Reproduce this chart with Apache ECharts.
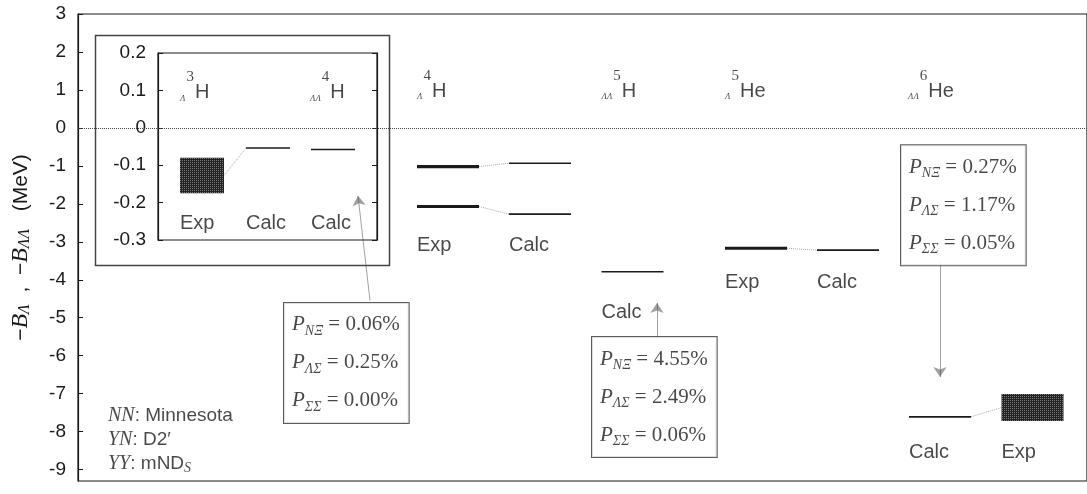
<!DOCTYPE html>
<html><head><meta charset="utf-8">
<script src="https://cdn.jsdelivr.net/npm/echarts@6/dist/echarts.min.js"></script>
<style>html,body{margin:0;padding:0;background:#fff}#c{width:1087px;height:494px}</style>
</head><body><div id="c"></div>
<script>
// ---------------- data ----------------
const yTicksMain = [3, 2, 1, 0, -1, -2, -3, -4, -5, -6, -7, -8, -9];
const yTicksInset = [0.2, 0.1, 0, -0.1, -0.2, -0.3];
// main panel energies (MeV)
const h4LExp = [-1.02, -2.07];
const h4LCalc = [-0.93, -2.27];
const h5LLCalc = [-3.79];
const he5LExp = [-3.17];
const he5LCalc = [-3.22];
const he6LLCalc = [-7.61];
const he6LLExp = [-7.01, -7.72];   // experimental band
// inset energies (MeV)
const h3LExp = [-0.08, -0.175];    // experimental band
const h3LCalc = [-0.054];
const h4LLCalc = [-0.058];
// probabilities (%)
const probKeys = ['NΞ', 'ΛΣ', 'ΣΣ'];
const probH4LL = ['0.06', '0.25', '0.00'];
const probH5LL = ['4.55', '2.49', '0.06'];
const probHe6LL = ['0.27', '1.17', '0.05'];
const potentials = [['NN', ': Minnesota', ''], ['YN', ': D2′', ''], ['YY', ': mND', 'S']];

// ---------------- layout (column slots in axis units) ----------------
const S = {h4Exp: 370, h4Calc: 462, h5Calc: 554.5, he5Exp: 678, he5Calc: 770, he6Calc: 862, he6Exp: 954.5};
const I = {h3Exp: 44, h3Calc: 110, h4Calc: 175};
const HW = 31, IHW = 22;
const SANS = 'Liberation Sans', SERIF = 'Liberation Serif';
const INK = '#1a1a1a';

// speckled pattern for experimental bands
const pc = document.createElement('canvas'); pc.width = 2; pc.height = 2;
const g = pc.getContext('2d');
g.fillStyle = '#222'; g.fillRect(0, 0, 2, 2);
g.fillStyle = '#7a7a7a'; g.fillRect(0, 0, 1, 1);
const hatch = {image: pc, repeat: 'repeat'};

function levelSeries(xi, yi, hw, data) {
  return {
    type: 'custom', xAxisIndex: xi, yAxisIndex: yi, silent: true, z: 5,
    renderItem: function (p, api) {
      const x = api.value(0), y = api.value(1), w = api.value(2);
      const a = api.coord([x - hw, y]), b = api.coord([x + hw, y]);
      return {type: 'line', shape: {x1: a[0], y1: a[1], x2: b[0], y2: b[1]}, style: {stroke: INK, lineWidth: w}};
    },
    data: data
  };
}
function bandSeries(xi, yi, hw, data) {
  return {
    type: 'custom', xAxisIndex: xi, yAxisIndex: yi, silent: true, z: 5,
    renderItem: function (p, api) {
      const x = api.value(0), y1 = api.value(1), y2 = api.value(2);
      const a = api.coord([x - hw, y1]), b = api.coord([x + hw, y2]);
      return {type: 'rect', shape: {x: a[0], y: a[1], width: b[0] - a[0], height: b[1] - a[1]}, style: {fill: hatch}};
    },
    data: data
  };
}
function textSeries(xi, yi, items, extra) {
  return Object.assign({
    type: 'scatter', xAxisIndex: xi, yAxisIndex: yi, symbolSize: 0, silent: true, z: 6,
    data: items.map(it => ({value: [it[0], it[1]], label: {formatter: it[2]}})),
    label: {show: true, position: 'right', distance: 0, color: INK, fontFamily: SANS, fontSize: 20}
  }, extra || {});
}

const nucRich = {
  sub: {fontFamily: SERIF, fontStyle: 'italic', fontSize: 9, verticalAlign: 'bottom', padding: [0, 0, 17, 0], color: INK},
  sup: {fontFamily: SERIF, fontSize: 15, verticalAlign: 'top', padding: [4, 1, 0, 1], color: INK},
  el: {fontFamily: SANS, fontSize: 20, lineHeight: 54, color: INK}
};
const probRich = {
  P: {fontFamily: SERIF, fontStyle: 'italic', fontSize: 21, lineHeight: 38, color: INK},
  s: {fontFamily: SERIF, fontStyle: 'italic', fontSize: 14, verticalAlign: 'bottom', padding: [0, 0, 6, 0], color: INK},
  t: {fontFamily: SERIF, fontSize: 21, lineHeight: 38, color: INK}
};
function probText(vals) {
  return vals.map((v, i) => '{P|P}{s|' + probKeys[i] + '}{t| = ' + v + '%}').join('\n');
}
const boxLabel = {rich: probRich, backgroundColor: '#fff', borderColor: '#333', borderWidth: 1, padding: [3, 9, 3, 8]};

const mainLevels = [
  [S.h4Exp, h4LExp[0], 3.2], [S.h4Exp, h4LExp[1], 3.2],
  [S.h4Calc, h4LCalc[0], 1.6], [S.h4Calc, h4LCalc[1], 1.6],
  [S.h5Calc, h5LLCalc[0], 1.6],
  [S.he5Exp, he5LExp[0], 3.0], [S.he5Calc, he5LCalc[0], 1.6],
  [S.he6Calc, he6LLCalc[0], 1.6]
];
const insetLevels = [[I.h3Calc, h3LCalc[0], 1.6], [I.h4Calc, h4LLCalc[0], 1.6]];

const dotted = {type: 'dotted', color: '#555', width: 1};
const connectors = [
  [[S.h4Exp + HW, h4LExp[0]], [S.h4Calc - HW, h4LCalc[0]]],
  [[S.h4Exp + HW, h4LExp[1]], [S.h4Calc - HW, h4LCalc[1]]],
  [[S.he5Exp + HW, he5LExp[0]], [S.he5Calc - HW, he5LCalc[0]]],
  [[S.he6Calc + HW, he6LLCalc[0]], [S.he6Exp - HW, (he6LLExp[0] + he6LLExp[1]) / 2]]
];
const insetConnectors = [[[I.h3Exp + IHW, (h3LExp[0] + h3LExp[1]) / 2], [I.h3Calc - IHW, h3LCalc[0]]]];

const chart = echarts.init(document.getElementById('c'), null, {renderer: 'canvas'});
chart.setOption({
  animation: false,
  backgroundColor: '#fff',
  grid: [
    {left: 78, top: 14, right: 0, bottom: 13, show: true, borderColor: INK, borderWidth: 1.2, backgroundColor: 'transparent',
      containLabel: false, outerBoundsMode: 'none'},
    {left: 158, top: 53, width: 219, height: 187, show: true, borderColor: INK, borderWidth: 1.2, backgroundColor: 'transparent',
      containLabel: false, outerBoundsMode: 'none'}
  ],
  graphic: [
    {type: 'rect', left: 93, top: 33, shape: {width: 294, height: 230}, style: {fill: 'none', stroke: '#444', lineWidth: 1.5}, z: 1}
  ],
  xAxis: [
    {gridIndex: 0, type: 'value', min: 0, max: 1009, show: false},
    {gridIndex: 1, type: 'value', min: 0, max: 219, show: false}
  ],
  yAxis: [
    {gridIndex: 0, type: 'value', min: -9.3, max: 3,
      axisLine: {show: true, lineStyle: {color: INK, width: 1.2}},
      axisTick: {show: true, inside: true, length: 5, customValues: yTicksMain, lineStyle: {color: INK}},
      axisLabel: {customValues: yTicksMain, margin: 12, color: INK, fontFamily: SANS, fontSize: 19},
      splitLine: {show: false},
      name: '{t|−}{B|B}{s|Λ}{t|  ,  −}{B|B}{s|ΛΛ}{t|   (MeV)}',
      nameLocation: 'middle', nameRotate: 90, nameGap: 42, nameMoveOverlap: false,
      nameTextStyle: {rich: {
        t: {fontFamily: SANS, fontSize: 21, lineHeight: 30, color: INK},
        B: {fontFamily: SERIF, fontStyle: 'italic', fontSize: 24, lineHeight: 30, color: INK},
        s: {fontFamily: SERIF, fontStyle: 'italic', fontSize: 16, verticalAlign: 'bottom', padding: [0, 0, 3, 0], color: INK}
      }}
    },
    {gridIndex: 1, type: 'value', min: -0.3, max: 0.2,
      axisLine: {show: true, lineStyle: {color: INK, width: 1.2}},
      axisTick: {show: true, inside: true, length: 5, customValues: yTicksInset, lineStyle: {color: INK}},
      axisLabel: {customValues: yTicksInset, margin: 12, color: INK, fontFamily: SANS, fontSize: 19,
        formatter: v => (Math.abs(v) < 1e-9 ? '0' : v.toFixed(1))},
      splitLine: {show: false}
    },
    {gridIndex: 1, type: 'value', min: -0.3, max: 0.2, position: 'right',
      axisLine: {show: true, lineStyle: {color: INK, width: 1.2}},
      axisTick: {show: true, inside: true, length: 5, customValues: yTicksInset, lineStyle: {color: INK}},
      axisLabel: {show: false}, splitLine: {show: false}
    }
  ],
  series: [
    {type: 'line', xAxisIndex: 0, yAxisIndex: 0, data: [], silent: true, z: 9,
      markLine: {silent: true, symbol: 'none', label: {show: false}, lineStyle: {type: 'dotted', color: '#444', width: 1}, data: [{yAxis: 0}]}},
    levelSeries(0, 0, HW, mainLevels),
    bandSeries(0, 0, HW, [[S.he6Exp, he6LLExp[0], he6LLExp[1]]]),
    levelSeries(1, 1, IHW, insetLevels),
    bandSeries(1, 1, IHW, [[I.h3Exp, h3LExp[0], h3LExp[1]]]),
    {type: 'lines', coordinateSystem: 'cartesian2d', xAxisIndex: 0, yAxisIndex: 0, silent: true, z: 4,
      symbol: 'none', lineStyle: dotted, data: connectors.map(c => ({coords: c}))},
    {type: 'lines', coordinateSystem: 'cartesian2d', xAxisIndex: 1, yAxisIndex: 1, silent: true, z: 4,
      symbol: 'none', lineStyle: dotted, data: insetConnectors.map(c => ({coords: c}))},
    // arrows from probability boxes
    {type: 'lines', coordinateSystem: 'cartesian2d', xAxisIndex: 0, yAxisIndex: 0, silent: true, z: 4,
      symbol: ['none', 'arrow'], symbolSize: 10, lineStyle: {color: '#444', width: 1},
      data: [
        {coords: [[292, -4.55], [280, -1.79]]},
        {coords: [[579, -5.56], [579, -4.61]]},
        {coords: [[862, -3.56], [862, -6.56]]}
      ]},
    // Exp / Calc tags, main
    textSeries(0, 0, [
      [S.h4Exp - HW, -3.09, 'Exp'], [S.h4Calc - HW, -3.09, 'Calc'],
      [S.h5Calc - HW, -4.87, 'Calc'],
      [S.he5Exp - HW, -4.08, 'Exp'], [S.he5Calc - HW, -4.08, 'Calc'],
      [S.he6Calc - HW, -8.56, 'Calc'], [S.he6Exp - HW, -8.56, 'Exp']
    ]),
    // Exp / Calc tags, inset
    textSeries(1, 1, [
      [I.h3Exp - IHW, -0.257, 'Exp'], [I.h3Calc - IHW, -0.257, 'Calc'], [I.h4Calc - IHW, -0.257, 'Calc']
    ]),
    // nuclide names
    textSeries(0, 0, [
      [S.h4Exp - HW, 0.97, '{sub|Λ}{sup|4}{el|H}'],
      [S.h5Calc - HW, 0.97, '{sub|ΛΛ}{sup|5}{el|H}'],
      [S.he5Exp - HW, 0.97, '{sub|Λ}{sup|5}{el|He}'],
      [S.he6Calc - HW - 1, 0.97, '{sub|ΛΛ}{sup|6}{el|He}']
    ], {label: {show: true, position: 'right', distance: 0, rich: nucRich}}),
    textSeries(1, 1, [
      [I.h3Exp - IHW, 0.094, '{sub|Λ}{sup|3}{el|H}'],
      [I.h4Calc - IHW - 1, 0.094, '{sub|ΛΛ}{sup|4}{el|H}']
    ], {label: {show: true, position: 'right', distance: 0, rich: nucRich}}),
    // probability boxes
    textSeries(0, 0, [
      [206, -6.19, probText(probH4LL)],
      [514, -7.09, probText(probH5LL)],
      [823, -2.04, probText(probHe6LL)]
    ], {z: 7, label: Object.assign({show: true, position: 'right', distance: 0}, boxLabel)}),
    // potentials legend
    textSeries(0, 0, [
      [30, -8.22, potentials.map(p => '{i|' + p[0] + '}{t|' + p[1] + '}' + (p[2] ? '{s|' + p[2] + '}' : '')).join('\n')]
    ], {label: {show: true, position: 'right', distance: 0, rich: {
      i: {fontFamily: SERIF, fontStyle: 'italic', fontSize: 20, lineHeight: 24, color: INK},
      t: {fontFamily: SANS, fontSize: 19, lineHeight: 24, color: INK},
      s: {fontFamily: SERIF, fontStyle: 'italic', fontSize: 14, verticalAlign: 'bottom', padding: [0, 0, 1, 0], color: INK}
    }}})
  ]
});
</script>
</body></html>
